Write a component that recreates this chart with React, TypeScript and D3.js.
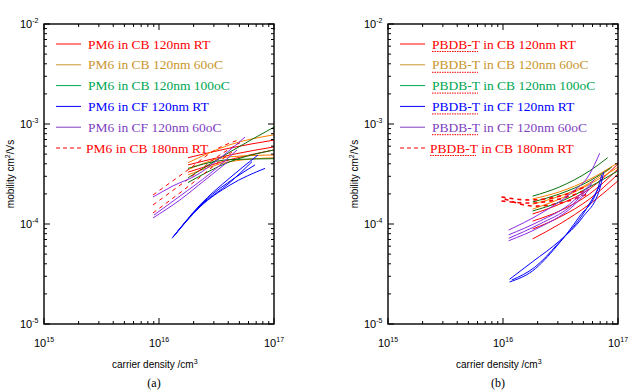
import React from 'react';
import * as d3 from 'd3';

type Pt = [number, number];

// legend labels
const legendA = [
  'PM6 in CB 120nm RT',
  'PM6 in CB 120nm 60oC',
  'PM6 in CB 120nm 100oC',
  'PM6 in CF 120nm RT',
  'PM6 in CF 120nm 60oC',
  'PM6 in CB 180nm RT',
];
const legendB = [
  'PBDB-T in CB 120nm RT',
  'PBDB-T in CB 120nm 60oC',
  'PBDB-T in CB 120nm 100oC',
  'PBDB-T in CF 120nm RT',
  'PBDB-T in CF 120nm 60oC',
  'PBDB-T in CB 180nm RT',
];

const xTickExp = [15, 16, 17];
const yTickExp = [-2, -3, -4, -5];

// (a) PM6  — [carrier density /cm3, mobility cm2/Vs]
const a_cb120rt: Pt[][] = [
  [[1.79e16, 4.6e-4], [4.14e16, 5.75e-4], [1e17, 6.9e-4]],
  [[1.79e16, 3.9e-4], [4.14e16, 4.9e-4], [1e17, 5.9e-4]],
  [[1.79e16, 3.3e-4], [4.14e16, 4.4e-4], [1e17, 5.5e-4]],
];
const a_cb60: Pt[][] = [
  [[1.79e16, 4.1e-4], [4.14e16, 6.2e-4], [1e17, 7.8e-4]],
  [[1.79e16, 3.5e-4], [4.14e16, 4.7e-4], [1e17, 4.9e-4]],
  [[1.79e16, 3.1e-4], [4.14e16, 4.2e-4], [1e17, 4.6e-4]],
];
const a_cb100: Pt[][] = [
  [[1.79e16, 2.9e-4], [4.14e16, 5.25e-4], [1e17, 9.3e-4]],
  [[1.79e16, 3.6e-4], [4.14e16, 4.4e-4], [1e17, 4.5e-4]],
  [[1.79e16, 2.6e-4], [4.14e16, 4.2e-4], [1e17, 5.5e-4]],
];
const a_cfrt: Pt[][] = [
  [[1.3e16, 7.2e-5], [2.27e16, 1.55e-4], [4.14e16, 2.9e-4], [7.26e16, 4.9e-4]],
  [[1.32e16, 7.4e-5], [2.27e16, 1.5e-4], [4.14e16, 2.6e-4], [6.44e16, 4.2e-4]],
  [[1.38e16, 7.8e-5], [2.27e16, 1.48e-4], [4.14e16, 2.45e-4], [8.35e16, 3.6e-4]],
  [[1.41e16, 8.1e-5], [2.51e16, 1.7e-4], [4.58e16, 2.9e-4], [6.84e16, 3.9e-4]],
];
const a_cf60: Pt[][] = [
  [[8.87e15, 1.86e-4], [1.32e16, 2.4e-4], [2.14e16, 3.1e-4], [3.26e16, 4.4e-4], [5.6e16, 7.4e-4]],
  [[8.87e15, 1.15e-4], [1.52e16, 1.74e-4], [2.51e16, 2.75e-4], [3.98e16, 4.2e-4]],
  [[9.05e15, 1.23e-4], [1.52e16, 1.9e-4], [2.78e16, 3.2e-4], [4.77e16, 5.5e-4]],
];
const a_cb180rt: Pt[][] = [
  [[8.87e15, 1.95e-4], [1.86e16, 3.6e-4], [3.07e16, 5.5e-4], [4.86e16, 6.9e-4]],
  [[8.87e15, 1.55e-4], [1.86e16, 2.9e-4], [3.39e16, 4.9e-4], [5.06e16, 6.5e-4]],
  [[8.87e15, 1.29e-4], [1.86e16, 2.45e-4], [3.07e16, 3.9e-4], [4.31e16, 5.25e-4]],
];

// (b) PBDB-T
const b_cb120rt: Pt[][] = [
  [[1.81e16, 1.26e-4], [3.11e16, 1.58e-4], [5.67e16, 2.24e-4], [1e17, 4.0e-4]],
  [[1.81e16, 1.07e-4], [3.11e16, 1.35e-4], [5.67e16, 2.0e-4], [1e17, 3.55e-4]],
  [[1.81e16, 8.9e-5], [3.11e16, 1.17e-4], [5.67e16, 1.78e-4], [1e17, 3.16e-4]],
  [[1.81e16, 7.1e-5], [3.11e16, 1.0e-4], [5.67e16, 1.58e-4], [1e17, 2.7e-4]],
];
const b_cb60: Pt[][] = [
  [[1.81e16, 1.78e-4], [3.11e16, 2.1e-4], [5.67e16, 2.8e-4], [1e17, 4.1e-4]],
  [[1.81e16, 1.41e-4], [3.11e16, 1.78e-4], [5.67e16, 2.5e-4], [1e17, 3.7e-4]],
  [[1.81e16, 1.58e-4], [3.11e16, 1.9e-4], [5.67e16, 2.57e-4], [8.47e16, 3.55e-4]],
];
const b_cb100: Pt[][] = [
  [[1.81e16, 1.9e-4], [3.11e16, 2.35e-4], [5.67e16, 3.4e-4], [8.13e16, 4.6e-4]],
  [[1.81e16, 1.66e-4], [3.11e16, 2.0e-4], [5.67e16, 2.7e-4], [8.82e16, 3.7e-4]],
  [[1.81e16, 1.35e-4], [3.11e16, 1.66e-4], [5.67e16, 2.35e-4], [1e17, 3.4e-4]],
];
const b_cfrt: Pt[][] = [
  [[1.14e16, 2.8e-5], [1.81e16, 4.2e-5], [3.11e16, 6.8e-5], [4.93e16, 1.17e-4], [6.93e16, 2.24e-4], [7.51e16, 3.3e-4]],
  [[1.14e16, 2.63e-5], [1.81e16, 3.4e-5], [2.93e16, 6.0e-5], [4.65e16, 1.2e-4], [6.65e16, 2.24e-4], [7.22e16, 3.1e-4]],
  [[1.19e16, 2.75e-5], [1.89e16, 3.7e-5], [2.99e16, 6.3e-5], [4.83e16, 1.2e-4], [7.07e16, 2.5e-4]],
];
const b_cf60: Pt[][] = [
  [[1.12e16, 8.7e-5], [2.09e16, 1.26e-4], [3.8e16, 2.0e-4], [5.67e16, 3.16e-4], [6.93e16, 5.1e-4]],
  [[1.12e16, 7.8e-5], [2.09e16, 1.07e-4], [3.8e16, 1.58e-4], [6.27e16, 2.8e-4]],
  [[1.12e16, 7.2e-5], [2.09e16, 1.0e-4], [3.8e16, 1.48e-4], [5.9e16, 2.5e-4]],
  [[1.12e16, 6.8e-5], [2.09e16, 9.3e-5], [3.8e16, 1.41e-4], [5.67e16, 2.24e-4]],
];
const b_cb180rt: Pt[][] = [
  [[9.7e15, 1.86e-4], [1.71e16, 1.74e-4], [3.11e16, 1.9e-4], [5.13e16, 2.35e-4]],
  [[9.7e15, 1.7e-4], [1.71e16, 1.62e-4], [3.11e16, 1.78e-4], [5.13e16, 2.14e-4]],
  [[1.035e16, 1.78e-4], [1.89e16, 1.51e-4], [3.44e16, 1.66e-4], [5.67e16, 2.04e-4]],
];

// legend colours vs plotted line colours (they differ a bit in the original)
const legendColors = ['#ff0000', '#c8962d', '#00a651', '#0000ff', '#7f3fbf', '#ff0000'];
const lineColors = ['#ff0000', '#ff8000', '#0a6e0a', '#0000ff', '#8a2be2', '#ff0000'];

type Group = { curves: Pt[][]; color: string; dashed?: boolean; width?: number };

const Sup: React.FC<{ x: number; y: number; exp: number; anchor?: string }> = ({ x, y, exp, anchor }) => (
  <text x={x} y={y} fontFamily="Liberation Sans, Arial, sans-serif" fontSize={11} textAnchor={anchor}>
    10
    <tspan fontSize={7} dy={-5}>{exp}</tspan>
  </text>
);

const Panel: React.FC<{
  left: number;
  groups: Group[];
  legend: string[];
  tag: string;
  underline?: number;
}> = ({ left, groups, legend, tag, underline }) => {
  const x0 = left, x1 = left + 230, yTop = 24, yBot = 324;
  const x = d3.scaleLog().domain([1e15, 1e17]).range([x0, x1]);
  const y = d3.scaleLog().domain([1e-5, 1e-2]).range([yBot, yTop]);
  const line = d3
    .line<Pt>()
    .x((d) => x(d[0]))
    .y((d) => y(d[1]))
    .curve(d3.curveMonotoneX);

  const xt = x.ticks();
  const yt = y.ticks();
  const isMajor = (v: number) => Math.abs(Math.log10(v) - Math.round(Math.log10(v))) < 1e-6;

  const lx = x0 + 12;
  return (
    <g>
      {groups.map((g, gi) =>
        g.curves.map((c, ci) => (
          <path
            key={`${gi}-${ci}`}
            d={line(c) || ''}
            fill="none"
            stroke={g.color}
            strokeWidth={g.width ?? 1}
            strokeDasharray={g.dashed ? '4,4' : undefined}
          />
        )),
      )}
      {/* frame */}
      <rect x={x0} y={yTop} width={x1 - x0} height={yBot - yTop} fill="none" stroke="#000" strokeWidth={1.4} />
      {xt.map((v, i) => {
        const l = isMajor(v) ? 6 : 3;
        return (
          <g key={'xt' + i} stroke="#000" strokeWidth={1}>
            <line x1={x(v)} x2={x(v)} y1={yBot} y2={yBot - l} />
            <line x1={x(v)} x2={x(v)} y1={yTop} y2={yTop + l} />
          </g>
        );
      })}
      {yt.map((v, i) => {
        const l = isMajor(v) ? 6 : 3;
        return (
          <g key={'yt' + i} stroke="#000" strokeWidth={1}>
            <line x1={x0} x2={x0 + l} y1={y(v)} y2={y(v)} />
            <line x1={x1} x2={x1 - l} y1={y(v)} y2={y(v)} />
          </g>
        );
      })}
      {xTickExp.map((e) => (
        <Sup key={'xl' + e} x={x(Math.pow(10, e)) - 10} y={yBot + 23} exp={e} />
      ))}
      {yTickExp.map((e) => (
        <Sup key={'yl' + e} x={x0 - 24} y={y(Math.pow(10, e)) + 4} exp={e} />
      ))}
      <text
        transform={`translate(${x0 - 30},174) rotate(-90)`}
        textAnchor="middle"
        fontFamily="Liberation Sans, Arial, sans-serif"
        fontSize={10}
      >
        mobility cm<tspan fontSize={7} dy={-4}>2</tspan>
        <tspan dy={4}>/Vs</tspan>
      </text>
      <text
        x={x0 + 68}
        y={368}
        fontFamily="Liberation Sans, Arial, sans-serif"
        fontSize={10}
      >
        carrier density  /cm<tspan fontSize={7} dy={-4}>3</tspan>
      </text>
      <text x={x0 + 110} y={387} textAnchor="middle" fontFamily="Liberation Serif, Times New Roman, serif" fontSize={12}>
        ({tag})
      </text>
      {legend.map((s, i) => {
        const yy = 44 + i * 20.8;
        const dashed = i === 5;
        const tx = dashed ? lx + 30 : lx + 32;
        const parts = s.split(' ');
        return (
          <g key={'lg' + i}>
            <line
              x1={lx}
              x2={lx + 25}
              y1={yy}
              y2={yy}
              stroke={legendColors[i]}
              strokeWidth={1}
              strokeDasharray={dashed ? '4,3' : undefined}
            />
            <text
              x={tx}
              y={yy + 4.5}
              fill={legendColors[i]}
              fontFamily="Liberation Serif, Times New Roman, serif"
              fontSize={13.5}
            >
              {s}
            </text>
            {underline && parts[0] === 'PBDB-T' ? (
              <line
                x1={tx}
                x2={tx + underline}
                y1={yy + 7.5}
                y2={yy + 7.5}
                stroke="#ff0000"
                strokeWidth={1}
                strokeDasharray="1.5,1"
              />
            ) : null}
          </g>
        );
      })}
    </g>
  );
};

const App: React.FC = () => {
  const groupsA: Group[] = [
    { curves: a_cb120rt, color: lineColors[0] },
    { curves: a_cb60, color: lineColors[1] },
    { curves: a_cb100, color: lineColors[2] },
    { curves: a_cb180rt, color: lineColors[5], dashed: true },
    { curves: a_cf60, color: lineColors[4] },
    { curves: a_cfrt, color: lineColors[3] },
  ];
  const groupsB: Group[] = [
    { curves: b_cb120rt, color: lineColors[0] },
    { curves: b_cb60, color: lineColors[1] },
    { curves: b_cb100, color: lineColors[2] },
    { curves: b_cb180rt, color: lineColors[5], dashed: true, width: 1.6 },
    { curves: b_cf60, color: lineColors[4] },
    { curves: b_cfrt, color: lineColors[3] },
  ];
  return (
    <svg
      width={629}
      height={391}
      style={{ position: 'absolute', left: 0, top: 0, background: '#fff' }}
    >
      <Panel left={44} groups={groupsA} legend={legendA} tag="a" />
      <Panel left={388} groups={groupsB} legend={legendB} tag="b" underline={46} />
    </svg>
  );
};

export default App;
